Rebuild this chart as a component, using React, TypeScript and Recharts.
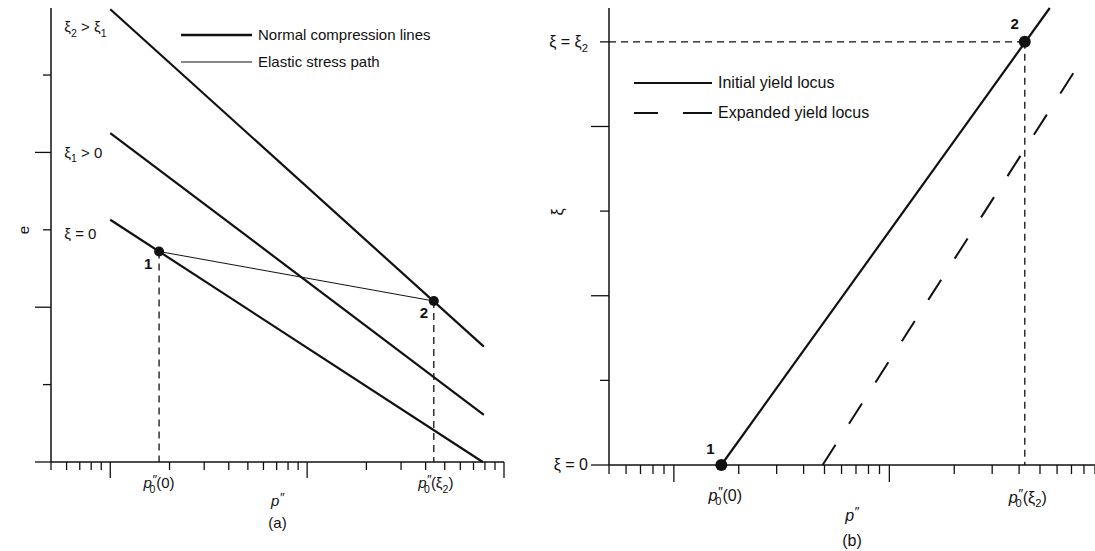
import React from "react";
import { ComposedChart, Line, Scatter, XAxis, YAxis, ReferenceDot, Legend } from "recharts";

// ─── Shared look ──────────────────────────────────────────
const FONT = "'Liberation Sans', Arial, Helvetica, sans-serif";
const INK = "#111";

// ─── Log-scale p'' ticks (1, 10, 100 are the long ones) ──
const pTicksA = [0.5, 0.6, 0.7, 0.8, 0.9, 1, 2, 3, 4, 5, 6, 7, 8, 9, 10, 20, 30, 40, 50, 60, 70, 80, 90, 100];
const pTicksB = [0.5, 0.6, 0.7, 0.8, 0.9, 1, 2, 3, 4, 5, 6, 7, 8, 9, 10, 20, 30, 40, 50, 60, 70, 80, 90];
const majorP = [1, 10, 100];
const eTicks = [0, 1, 2, 3, 4, 5];
const xiTicks = [0, 1, 2, 3, 4, 5];

// ─── Panel (a): e vs log p'' ──────────────────────────────
const nclXi2 = [{ p: 1, e: 5.85 }, { p: 79, e: 1.49 }];
const nclXi1 = [{ p: 1, e: 4.25 }, { p: 79, e: 0.61 }];
const nclXi0 = [{ p: 1, e: 3.13 }, { p: 78, e: 0 }];
const elasticPath = [{ p: 1.77, e: 2.72 }, { p: 44, e: 2.08 }];
const dropA1 = [{ p: 1.77, e: 2.72 }, { p: 1.77, e: 0 }];
const dropA2 = [{ p: 44, e: 2.08 }, { p: 44, e: 0 }];
const statesA = [{ p: 1.77, e: 2.72, tag: "1" }, { p: 44, e: 2.08, tag: "2" }];

// ─── Panel (b): xi vs log p'' ─────────────────────────────
const initialLocus = [{ p: 1.66, xi: 0 }, { p: 55.5, xi: 5.4 }];
const expandedLocus = [{ p: 4.9, xi: 0 }, { p: 77, xi: 4.76 }];
const xi2Level = [{ p: 0.5, xi: 5 }, { p: 42.5, xi: 5 }];
const xi2Drop = [{ p: 42.5, xi: 5 }, { p: 42.5, xi: 0 }];
const statesB = [{ p: 1.66, xi: 0, tag: "1" }, { p: 42.5, xi: 5, tag: "2" }];

// ─── Rich text (sub / sup / italic) ───────────────────────
type Part = [string, string?, number?];
function Rich({ parts, size }: { parts: Part[]; size: number }) {
  let shift = 0;
  return (
    <>
      {parts.map(([t, kind, dx], i) => {
        const target = kind === "sub" ? size * 0.3 : kind === "sup" ? -size * 0.3 : 0;
        const dy = target - shift;
        shift = target;
        const fs = kind === "sub" ? size * 0.7 : kind === "sup" ? size * 0.85 : undefined;
        return (
          <tspan key={i} dx={dx} dy={dy || undefined} fontSize={fs}
            fontStyle={kind === "it" || kind === "sup" ? "italic" : undefined}>{t}</tspan>
        );
      })}
    </>
  );
}

const p0Of0: Part[] = [["p", "it"], ["″", "sup"], ["0", "sub", -7], ["(0)", undefined, 1]];
const p0OfXi2: Part[] = [["p", "it"], ["″", "sup"], ["0", "sub", -7], ["(ξ", undefined, 1], ["2", "sub"], [")"]];
const pAxis: Part[] = [["p", "it"], ["″", "sup"]];

// ─── Tick renderers ───────────────────────────────────────
const logTick = (short: number, long: number) => (props: any) => {
  const { x, y, payload } = props;
  const len = majorP.includes(payload.value) ? long : short;
  return <line x1={x} x2={x} y1={y} y2={y + len} stroke={INK} strokeWidth={1.3} />;
};

const valueTick = (short: number, long: number, labels: Record<number, Part[]>, size: number) => (props: any) => {
  const { x, y, payload } = props;
  const len = payload.value % 2 === 0 ? long : short;
  const lab = labels[payload.value];
  return (
    <g>
      <line x1={x - len} x2={x} y1={y} y2={y} stroke={INK} strokeWidth={1.3} />
      {lab && (
        <text x={x - 21} y={y + 5} textAnchor="end" fontSize={size} fontFamily={FONT} fill={INK}>
          <Rich parts={lab} size={size} />
        </text>
      )}
    </g>
  );
};

const stateShape = (r: number, offs: Record<string, [number, number]>) => (props: any) => {
  const { cx, cy, payload } = props;
  const [dx, dy] = offs[payload.tag];
  return (
    <g>
      <circle cx={cx} cy={cy} r={r} fill={INK} />
      <text x={cx + dx} y={cy + dy + 5} textAnchor="middle" fontSize={15} fontWeight="bold" fontFamily={FONT} fill={INK}>
        {payload.tag}
      </text>
    </g>
  );
};

const textAt = (parts: Part[], size: number, anchor: string, dx = 0, dy = 0) => (props: any) => (
  <text x={props.cx + dx} y={props.cy + dy + size * 0.35} textAnchor={anchor} fontSize={size} fontFamily={FONT} fill={INK}>
    <Rich parts={parts} size={size} />
  </text>
);

const xCaption = (tag: string, gap1: number, gap2: number, size: number) => (props: any) => {
  const vb = props.viewBox;
  const cx = vb.x + vb.width / 2;
  return (
    <g fontFamily={FONT} fill={INK} fontSize={size}>
      <text x={cx} y={vb.y + gap1 + size * 0.35} textAnchor="middle"><Rich parts={pAxis} size={size} /></text>
      <text x={cx} y={vb.y + gap2 + size * 0.35} textAnchor="middle">{tag}</text>
    </g>
  );
};

const yCaption = (txt: string, x: number, y: number, size: number) => () => (
  <text x={x} y={y} transform={`rotate(-90 ${x} ${y})`} textAnchor="middle" dominantBaseline="central"
    fontSize={size} fontFamily={FONT} fill={INK}>{txt}</text>
);

// ─── Legend ───────────────────────────────────────────────
const legendA = [
  { label: "Normal compression lines", width: 2.4, dash: undefined as string | undefined },
  { label: "Elastic stress path", width: 1, dash: undefined as string | undefined },
];
const legendB = [
  { label: "Initial yield locus", width: 2, dash: undefined as string | undefined },
  { label: "Expanded yield locus", width: 2, dash: "24 25 40" },
];

const legendContent = (rows: typeof legendA, lineLen: number, rowGap: number, size: number) => () => (
  <div style={{ fontFamily: FONT, fontSize: size, color: INK }}>
    {rows.map((r) => (
      <div key={r.label} style={{ display: "flex", alignItems: "center", height: rowGap }}>
        <svg width={lineLen} height={6} style={{ marginRight: 6 }}>
          <line x1={0} x2={lineLen} y1={3} y2={3} stroke={INK} strokeWidth={r.width} strokeDasharray={r.dash} />
        </svg>
        <span>{r.label}</span>
      </div>
    ))}
  </div>
);

const line = (data: any[], key: string, width: number, dash?: string) => (
  <Line data={data} dataKey={key} stroke={INK} strokeWidth={width} strokeDasharray={dash}
    dot={false} activeDot={false} isAnimationActive={false} legendType="none" />
);

export default function App() {
  return (
    <div style={{ position: "absolute", left: 0, top: 0, width: 1095, height: 551, background: "#fff" }}>
      {/* Panel (a) */}
      <div style={{ position: "absolute", left: 0, top: 0 }}>
        <ComposedChart width={520} height={551} margin={{ top: 8, right: 16, bottom: 0, left: 0 }}>
          <XAxis dataKey="p" type="number" scale="log" domain={[0.5, 100]} ticks={pTicksA}
            interval={0} tickSize={0} tickMargin={0} tickLine={false} tick={logTick(8, 16)}
            axisLine={{ stroke: INK, strokeWidth: 1.5 }} height={89}
            label={{ content: xCaption("(a)", 39, 61, 15) }} />
          <YAxis dataKey="e" type="number" domain={[0, 5.866]} ticks={eTicks} interval={0}
            tickSize={0} tickMargin={0} tickLine={false} tick={valueTick(8, 16, {}, 15)}
            axisLine={{ stroke: INK, strokeWidth: 1.5 }} width={51}
            label={{ content: yCaption("e", 23, 230, 15) }} />
          <Legend layout="vertical" align="center" verticalAlign="middle"
            wrapperStyle={{ left: 181, top: 21, width: 280 }} content={legendContent(legendA, 71, 27, 15)} />
          {line(nclXi2, "e", 2.2)}
          {line(nclXi1, "e", 2.2)}
          {line(nclXi0, "e", 2.2)}
          {line(elasticPath, "e", 1)}
          {line(dropA1, "e", 1.3, "7 5")}
          {line(dropA2, "e", 1.3, "7 5")}
          <Scatter data={statesA} dataKey="e" isAnimationActive={false} legendType="none"
            shape={stateShape(5, { "1": [-11, 13], "2": [-10, 12] })} />
          <ReferenceDot x={0.584} y={5.62} r={0} shape={textAt([["ξ"], ["2", "sub"], [" > ξ"], ["1", "sub"]], 15, "start")} />
          <ReferenceDot x={0.584} y={4.0} r={0} shape={textAt([["ξ"], ["1", "sub"], [" > 0"]], 15, "start")} />
          <ReferenceDot x={0.584} y={2.95} r={0} shape={textAt([["ξ = 0"]], 15, "start")} />
          <ReferenceDot x={1.77} y={0} r={0} shape={textAt(p0Of0, 15, "middle", 0, 21)} />
          <ReferenceDot x={44} y={0} r={0} shape={textAt(p0OfXi2, 15, "middle", 2, 21)} />
        </ComposedChart>
      </div>

      {/* Panel (b) */}
      <div style={{ position: "absolute", left: 520, top: 0 }}>
        <ComposedChart width={575} height={551} margin={{ top: 8, right: 0, bottom: 0, left: 0 }}>
          <XAxis dataKey="p" type="number" scale="log" domain={[0.5, 90]} ticks={pTicksB}
            interval={0} tickSize={0} tickMargin={0} tickLine={false} tick={logTick(9, 17)}
            axisLine={{ stroke: INK, strokeWidth: 1.5 }} height={86}
            label={{ content: xCaption("(b)", 50, 75, 16) }} />
          <YAxis dataKey="xi" type="number" domain={[0, 5.4]} ticks={xiTicks} interval={0}
            tickSize={0} tickMargin={0} tickLine={false}
            tick={valueTick(9, 18, { 0: [["ξ = 0"]], 5: [["ξ = ξ"], ["2", "sub"]] }, 16)}
            axisLine={{ stroke: INK, strokeWidth: 1.5 }} width={89}
            label={{ content: yCaption("ξ", 37, 212, 16) }} />
          <Legend layout="vertical" align="center" verticalAlign="middle"
            wrapperStyle={{ left: 114, top: 68, width: 300 }} content={legendContent(legendB, 78, 30, 16)} />
          {line(initialLocus, "xi", 2.2)}
          {line(expandedLocus, "xi", 2, "24 25")}
          {line(xi2Level, "xi", 1.3, "7 5")}
          {line(xi2Drop, "xi", 1.3, "7 5")}
          <Scatter data={statesB} dataKey="xi" isAnimationActive={false} legendType="none"
            shape={stateShape(6, { "1": [-11, -16], "2": [-10, -18] })} />
          <ReferenceDot x={1.66} y={0} r={0} shape={textAt(p0Of0, 16, "middle", 4, 30)} />
          <ReferenceDot x={42.5} y={0} r={0} shape={textAt(p0OfXi2, 16, "middle", 3, 32)} />
        </ComposedChart>
      </div>
    </div>
  );
}
